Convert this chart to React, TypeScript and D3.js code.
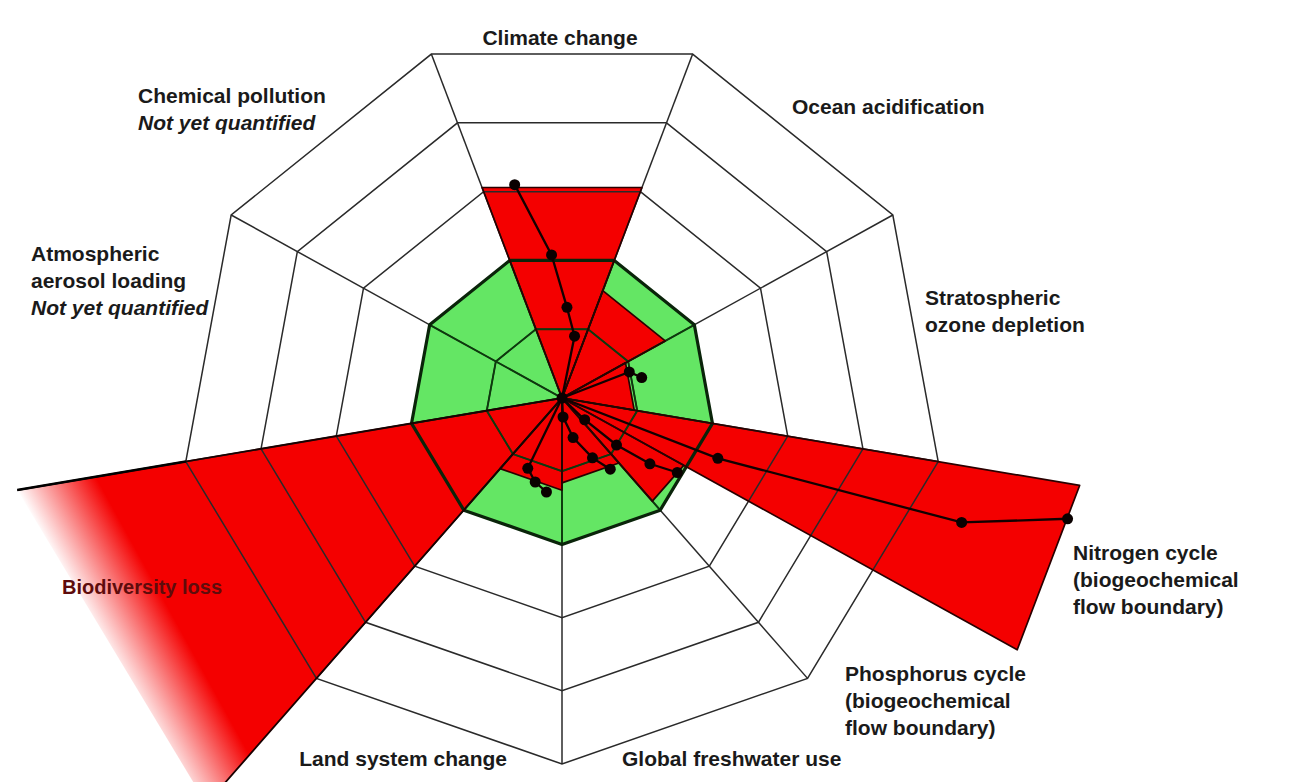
import * as d3 from 'd3'
import React from 'react'

// boundaries, clockwise from 12 o'clock
const boundaries = [
    'Climate change',
    'Ocean acidification',
    'Stratospheric ozone depletion',
    'Nitrogen cycle',
    'Phosphorus cycle',
    'Global freshwater use',
    'Land system change',
    'Biodiversity loss',
    'Atmospheric aerosol loading',
    'Chemical pollution',
]

// wedge edges in degrees, clockwise from 12 o'clock
const startAngles = [-20, 20, 60, 100, 120, 140, 180, 220, 260, 300]
const endAngles = [20, 60, 100, 120, 140, 180, 220, 260, 300, 340]

// current control variable, 1 = the boundary (edge of the green zone), null = not quantified
const currentValues: (number | null)[] = [1.53, 0.78, 0.48, 3.44, 0.92, 0.58, 0.63, 3.62, null, null]

// historical trajectories, [angle, value]
const climateTrack = [[11, 0.43], [3, 0.62], [-4, 0.98], [-12, 1.49]]
const ozoneTrack = [[68, 0.475], [75, 0.54]]
const nitrogenTrack = [[112, 1.1], [108, 2.75], [104, 3.41]]
const phosphorusTrack = [[135, 0.21], [132, 0.48], [128, 0.73], [124, 0.91]]
const freshwaterTrack = [[177, 0.13], [165, 0.28], [154, 0.455], [147, 0.58]]
const landTrack = [[205, 0.53], [197, 0.6], [189, 0.65]]
const tracks = [climateTrack, [], ozoneTrack, nitrogenTrack, phosphorusTrack, freshwaterTrack, landTrack, [], [], []]

// web grid
const ringValues = [0.5, 1, 1.5, 2, 2.5]
const spokeAngles = [20, 60, 100, 140, 180, 220, 260, 300, 340]

// label text, one array per boundary
const labelLines = [
    ['Climate change'],
    ['Ocean acidification'],
    ['Stratospheric', 'ozone depletion'],
    ['Nitrogen cycle', '(biogeochemical', 'flow boundary)'],
    ['Phosphorus cycle', '(biogeochemical', 'flow boundary)'],
    ['Global freshwater use'],
    ['Land system change'],
    ['Biodiversity loss'],
    ['Atmospheric', 'aerosol loading', 'Not yet quantified'],
    ['Chemical pollution', 'Not yet quantified'],
]

// layout only
const width = 1307
const height = 782
const cx = 562
const cy = 398
const RX = 382
const RY = 366
const labelPos: [number, number, string][] = [
    [560, 37, 'middle'],
    [792, 106, 'start'],
    [925, 297, 'start'],
    [1073, 552, 'start'],
    [845, 673, 'start'],
    [622, 758, 'start'],
    [507, 758, 'end'],
    [62, 587, 'start'],
    [31, 253, 'start'],
    [138, 95, 'start'],
]
const lineHeight = 27
const RED = '#f40000'
const GREEN = '#64e664'

const rScale = d3.scaleLinear().domain([0, 2.5]).range([0, 1])
const px = (a: number, v: number) => cx + rScale(v) * RX * Math.sin((a * Math.PI) / 180)
const py = (a: number, v: number) => cy - rScale(v) * RY * Math.cos((a * Math.PI) / 180)

export default function App() {
    const svgRef = React.useRef<SVGSVGElement | null>(null)

    React.useEffect(() => {
        const svg = d3.select(svgRef.current)
        svg.selectAll('*').remove()

        const line = d3
            .line<[number, number]>()
            .x((d) => px(d[0], d[1]))
            .y((d) => py(d[0], d[1]))

        svg.append('rect').attr('width', width).attr('height', height).attr('fill', '#fff')

        // fade for the biodiversity wedge
        const bio = boundaries.indexOf('Biodiversity loss')
        const bioMid = (startAngles[bio] + endAngles[bio]) / 2
        const grad = svg
            .append('defs')
            .append('linearGradient')
            .attr('id', 'bioFade')
            .attr('gradientUnits', 'userSpaceOnUse')
            .attr('x1', px(bioMid, 2.95))
            .attr('y1', py(bioMid, 2.95))
            .attr('x2', px(bioMid, 3.45))
            .attr('y2', py(bioMid, 3.45))
        grad.append('stop').attr('offset', 0).attr('stop-color', RED).attr('stop-opacity', 1)
        grad.append('stop').attr('offset', 1).attr('stop-color', RED).attr('stop-opacity', 0)

        const ringPath = (v: number) => line(spokeAngles.map((a) => [a, v] as [number, number])) + 'Z'

        // safe operating space
        svg.append('path').attr('d', ringPath(1)).attr('fill', GREEN)

        // wedges
        const wedgePath = (i: number) => {
            const v = currentValues[i] as number
            return `M${cx},${cy}L${px(startAngles[i], v)},${py(startAngles[i], v)}L${px(endAngles[i], v)},${py(endAngles[i], v)}Z`
        }
        const quantified = d3.range(boundaries.length).filter((i) => currentValues[i] !== null)

        svg.append('g')
            .selectAll('path')
            .data(quantified)
            .join('path')
            .attr('d', (i) => wedgePath(i))
            .attr('fill', (i) => (i === bio ? 'url(#bioFade)' : RED))

        // grid
        const grid = svg.append('g').attr('fill', 'none').attr('stroke', '#2a2a2a').attr('stroke-width', 1.5)
        grid.selectAll('path.ring')
            .data(ringValues)
            .join('path')
            .attr('class', 'ring')
            .attr('d', (v) => ringPath(v))
        grid.selectAll('line')
            .data(spokeAngles)
            .join('line')
            .attr('x1', cx)
            .attr('y1', cy)
            .attr('x2', (a) => px(a, 2.5))
            .attr('y2', (a) => py(a, 2.5))

        // grid inside the green zone is heavier
        const inner = svg.append('g').attr('stroke', '#0d3a0d').attr('stroke-width', 1.9).attr('fill', 'none')
        inner.selectAll('line')
            .data(spokeAngles)
            .join('line')
            .attr('x1', cx)
            .attr('y1', cy)
            .attr('x2', (a) => px(a, 1))
            .attr('y2', (a) => py(a, 1))
        inner.append('path').attr('d', ringPath(0.5))
        svg.append('path')
            .attr('d', ringPath(1))
            .attr('fill', 'none')
            .attr('stroke', '#0a240a')
            .attr('stroke-width', 3.2)
            .attr('stroke-linejoin', 'round')

        // wedge outlines
        svg.append('g')
            .selectAll('path')
            .data(quantified.filter((i) => i !== bio))
            .join('path')
            .attr('d', (i) => wedgePath(i))
            .attr('fill', 'none')
            .attr('stroke', '#2a0000')
            .attr('stroke-width', 1.7)
            .attr('stroke-linejoin', 'round')
        const bv = currentValues[bio] as number
        svg.append('path')
            .attr('d', line([[startAngles[bio], bv], [0, 0], [endAngles[bio], bv]]))
            .attr('fill', 'none')
            .attr('stroke', '#1a0000')
            .attr('stroke-width', 1.8)
        svg.append('path')
            .attr('d', line([[endAngles[bio], bv], [endAngles[bio], 2.5]]))
            .attr('stroke', '#000')
            .attr('stroke-width', 2.4)

        // trajectories
        const tg = svg.append('g')
        tracks.forEach((t) => {
            if (t.length === 0) return
            tg.append('path')
                .attr('d', line([[0, 0], ...(t as [number, number][])]))
                .attr('fill', 'none')
                .attr('stroke', '#120000')
                .attr('stroke-width', 2.3)
            tg.selectAll(null)
                .data(t)
                .enter()
                .append('circle')
                .attr('cx', (d) => px(d[0], d[1]))
                .attr('cy', (d) => py(d[0], d[1]))
                .attr('r', 5.5)
                .attr('fill', '#0a0000')
        })
        tg.append('circle').attr('cx', cx).attr('cy', cy).attr('r', 5.5).attr('fill', '#0a0000')

        // labels
        const lg = svg
            .append('g')
            .attr('font-family', '"Liberation Sans", Arial, sans-serif')
            .attr('font-weight', 'bold')
            .attr('font-size', 21)
        labelLines.forEach((lines, i) => {
            const [x, y, anchor] = labelPos[i]
            const text = lg
                .append('text')
                .attr('text-anchor', anchor)
                .attr('fill', i === bio ? '#5e0c0c' : '#1a1a1a')
                .attr('font-size', i === bio ? 20 : 21)
            lines.forEach((l, j) => {
                text.append('tspan')
                    .attr('x', x)
                    .attr('y', y + j * lineHeight)
                    .attr('dominant-baseline', 'central')
                    .attr('font-style', l === 'Not yet quantified' ? 'italic' : 'normal')
                    .text(l)
            })
        })
    }, [])

    return (
        <svg
            ref={svgRef}
            width={width}
            height={height}
            viewBox={`0 0 ${width} ${height}`}
            style={{ position: 'absolute', left: 0, top: 0 }}
        />
    )
}
